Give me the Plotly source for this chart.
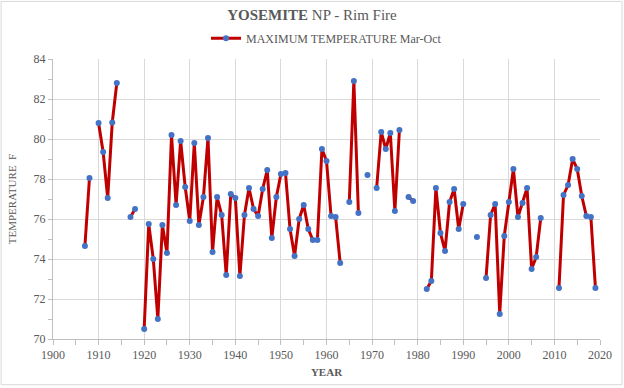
import plotly.graph_objects as go

years = list(range(1907, 2020))
values_by_year = {
    1907: 74.65, 1908: 78.05, 1910: 80.8, 1911: 79.35, 1912: 77.05, 1913: 80.83, 1914: 82.8,
    1917: 76.1, 1918: 76.5, 1920: 70.5, 1921: 75.75, 1922: 74.0, 1923: 71.0, 1924: 75.7,
    1925: 74.3, 1926: 80.2, 1927: 76.7, 1928: 79.9, 1929: 77.6, 1930: 75.9, 1931: 79.8,
    1932: 75.7, 1933: 77.1, 1934: 80.05, 1935: 74.35, 1936: 77.1, 1937: 76.2, 1938: 73.2,
    1939: 77.25, 1940: 77.05, 1941: 73.15, 1942: 76.2, 1943: 77.55, 1944: 76.5, 1945: 76.15,
    1946: 77.5, 1947: 78.45, 1948: 75.05, 1949: 77.1, 1950: 78.25, 1951: 78.3, 1952: 75.5,
    1953: 74.15, 1954: 76.0, 1955: 76.7, 1956: 75.5, 1957: 74.95, 1958: 74.95, 1959: 79.5,
    1960: 78.9, 1961: 76.15, 1962: 76.1, 1963: 73.8, 1965: 76.85, 1966: 82.9, 1967: 76.3,
    1969: 78.2, 1971: 77.55, 1972: 80.35, 1973: 79.5, 1974: 80.3, 1975: 76.4, 1976: 80.45,
    1978: 77.1, 1979: 76.9, 1982: 72.5, 1983: 72.9, 1984: 77.55, 1985: 75.3, 1986: 74.4,
    1987: 76.85, 1988: 77.5, 1989: 75.5, 1990: 76.75, 1993: 75.1, 1995: 73.05, 1996: 76.2,
    1997: 76.75, 1998: 71.25, 1999: 75.15, 2000: 76.85, 2001: 78.5, 2002: 76.1, 2003: 76.8,
    2004: 77.55, 2005: 73.5, 2006: 74.1, 2007: 76.05, 2011: 72.55, 2012: 77.2, 2013: 77.7,
    2014: 79.0, 2015: 78.5, 2016: 77.15, 2017: 76.15, 2018: 76.1, 2019: 72.55,
}
temps = [values_by_year.get(y) for y in years]

x_ticks = list(range(1900, 2021, 10))
y_ticks = list(range(70, 85, 2))

FONT = "Liberation Serif"
GRAY = "#595959"
AXIS = "#bfbfbf"

fig = go.Figure()
fig.add_trace(go.Scatter(
    x=years, y=temps, mode="lines+markers",
    name="MAXIMUM TEMPERATURE Mar-Oct",
    line=dict(color="#C00000", width=3),
    marker=dict(color="#4472C4", size=6),
    connectgaps=False,
))

fig.update_layout(
    width=624, height=388,
    margin=dict(l=53, r=23, t=59, b=47),
    paper_bgcolor="white", plot_bgcolor="white",
    font=dict(family=FONT, color=GRAY, size=12),
    title=dict(text="<b>YOSEMITE</b> NP - Rim Fire", x=0.5, xanchor="center",
               y=1 - 15 / 388, yanchor="middle",
               font=dict(family=FONT, size=15, color=GRAY)),
    showlegend=True,
    legend=dict(orientation="h", x=0.5, xanchor="center", y=1 + 21 / 282, yanchor="middle",
                font=dict(family=FONT, size=12, color=GRAY), itemwidth=30,
                bgcolor="rgba(0,0,0,0)"),
    xaxis=dict(range=[1900, 2020], tickvals=x_ticks, showgrid=True, gridcolor="#d9d9d9",
               showline=True, linecolor=AXIS, ticks="outside", tickcolor=AXIS,
               ticklen=5, minor=dict(dtick=5, ticks="outside", ticklen=5, tickcolor=AXIS),
               title=dict(text="<b>YEAR</b>", font=dict(family=FONT, size=11, color=GRAY), standoff=6),
               tickfont=dict(family=FONT, size=12, color=GRAY), zeroline=False),
    yaxis=dict(range=[70, 84], tickvals=y_ticks, showgrid=True, gridcolor="#d9d9d9",
               showline=True, linecolor=AXIS, ticks="outside", tickcolor=AXIS, ticklen=4,
               minor=dict(dtick=1, ticks="outside", ticklen=4, tickcolor=AXIS, showgrid=False),
               zeroline=False,
               title=dict(text="TEMPERATURE  F", font=dict(family=FONT, size=11, color=GRAY), standoff=14),
               tickfont=dict(family=FONT, size=12, color=GRAY)),
    shapes=[dict(type="rect", xref="paper", yref="paper",
                 x0=-52 / 548, x1=1 + 22 / 548, y0=-46 / 282, y1=1 + 58 / 282,
                 line=dict(color="#d9d9d9", width=1), fillcolor="rgba(0,0,0,0)", layer="below")],
)

fig.write_html("out.html", config={"displayModeBar": False},
               post_script="document.body.style.margin='0';")
